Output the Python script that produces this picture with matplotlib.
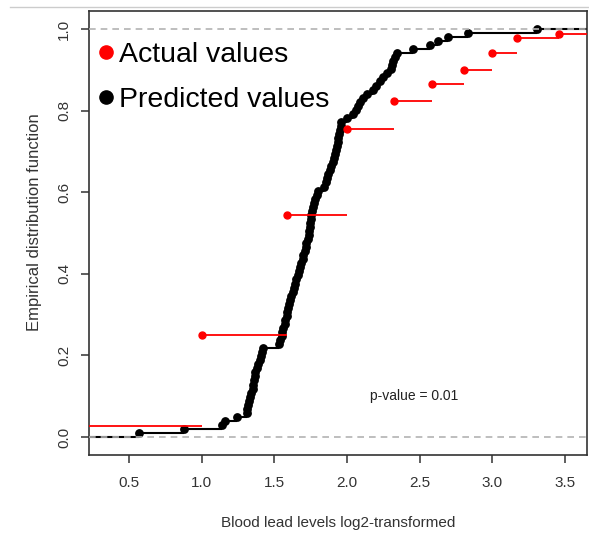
import numpy as np
import matplotlib
matplotlib.use("Agg")
import matplotlib.pyplot as plt
from matplotlib.lines import Line2D

plt.rcParams['font.family'] = ['Liberation Sans', 'DejaVu Sans']

# Actual blood lead levels (ug/dL) and their empirical CDF heights
actual_levels = [1, 2, 3, 4, 5, 6, 7, 8, 9, 11, 14]
actual_ecdf = [0.027, 0.25, 0.545, 0.755, 0.823, 0.864, 0.90, 0.94, 0.978, 0.988, 1.0]

# Predicted values (log2 scale), sorted
predicted = [
    0.57, 0.88, 1.14, 1.16, 1.24, 1.31, 1.315, 1.32, 1.325, 1.33,
    1.34, 1.35, 1.355, 1.36, 1.365, 1.37, 1.38, 1.39, 1.40, 1.41,
    1.415, 1.425, 1.535, 1.54, 1.55, 1.555, 1.56, 1.57, 1.575, 1.585,
    1.59, 1.595, 1.60, 1.607, 1.615, 1.625, 1.635, 1.642, 1.65, 1.66,
    1.668, 1.676, 1.685, 1.695, 1.70, 1.71, 1.715, 1.72, 1.728, 1.735,
    1.74, 1.745, 1.748, 1.75, 1.755, 1.76, 1.765, 1.77, 1.78, 1.79,
    1.80, 1.84, 1.855, 1.865, 1.872, 1.88, 1.89, 1.90, 1.91, 1.915,
    1.925, 1.93, 1.935, 1.94, 1.947, 1.952, 1.956, 1.96, 1.997, 2.04,
    2.06, 2.077, 2.09, 2.11, 2.135, 2.18, 2.20, 2.226, 2.25, 2.272,
    2.30, 2.31, 2.318, 2.33, 2.34, 2.456, 2.57, 2.627, 2.696, 2.833,
    3.308,
]

xticks = [0.5, 1.0, 1.5, 2.0, 2.5, 3.0, 3.5]
yticks = [0.0, 0.2, 0.4, 0.6, 0.8, 1.0]
legend_labels = ["Actual values", "Predicted values"]
p_text = "p-value = 0.01"

fig = plt.figure(figsize=(5.89, 5.33), dpi=100)
ax = fig.add_axes([89/589, 1-455/533, (587-89)/589, (455-11)/533])
xmin, xmax = 0.225, 3.65
ax.set_xlim(xmin, xmax)
ax.set_ylim(-0.044, 1.044)

# Predicted ECDF (black)
px = np.array(predicted)
n = len(px)
py = np.arange(1, n + 1) / n
starts = np.concatenate([[xmin - 1], px])
ends = np.concatenate([px, [xmax + 1]])
levels = np.concatenate([[0.0], py])
ax.hlines(levels, starts, ends, color='black', lw=1.5, zorder=2)
ax.plot(px, py, 'o', color='black', ms=5.3, zorder=3)

# Actual ECDF (red)
ax_x = np.log2(np.array(actual_levels, dtype=float))
ay = np.array(actual_ecdf)
starts = np.concatenate([[xmin - 1], ax_x])
ends = np.concatenate([ax_x, [xmax + 1]])
levels = np.concatenate([[0.0], ay])
ax.hlines(levels, starts, ends, color='red', lw=1.3, zorder=4)
ax.plot(ax_x, ay, 'o', color='red', ms=5.0, zorder=5)

# reference lines
ax.axhline(0, color='#b3b3b3', lw=1.2, ls=(0, (4, 3)), zorder=6)
ax.axhline(1, color='#b3b3b3', lw=1.2, ls=(0, (4, 3)), zorder=6)

ax.set_xticks(xticks)
ax.set_xticklabels([f"{t:.1f}" for t in xticks])
ax.set_yticks(yticks)
ax.set_yticklabels([f"{t:.1f}" for t in yticks], rotation=90, va='center')
ax.tick_params(axis='both', labelsize=11, length=6, width=1.1, color='#333333',
               labelcolor='#333333')
ax.tick_params(axis='x', pad=9)
ax.tick_params(axis='y', pad=7)
for s in ax.spines.values():
    s.set_color('#333333')
    s.set_linewidth(1.2)

ax.set_xlabel("Blood lead levels log2-transformed", fontsize=11, color='#333333')
ax.set_ylabel("Empirical distribution function", fontsize=12, color='#333333')
ax.yaxis.set_label_coords(-0.094, 0.525)
ax.xaxis.set_label_coords(0.5, -0.137)

ax.text(2.46, 0.10, p_text, fontsize=10, color='#222222', ha='center', va='center')

handles = [Line2D([], [], marker='o', color='red', ls='none', ms=9.5),
           Line2D([], [], marker='o', color='black', ls='none', ms=9.5)]
ax.legend(handles, legend_labels, loc='upper left', bbox_to_anchor=(0.0, 0.95),
          frameon=False, fontsize=20.5, handlelength=0.6, handletextpad=0.15,
          labelspacing=0.68, borderaxespad=0.0, borderpad=0.3)

fig.add_artist(Line2D([10/589, 1.0], [1-7/533, 1-7/533], color='#cccccc', lw=1))

fig.savefig("out.png", dpi=100)
